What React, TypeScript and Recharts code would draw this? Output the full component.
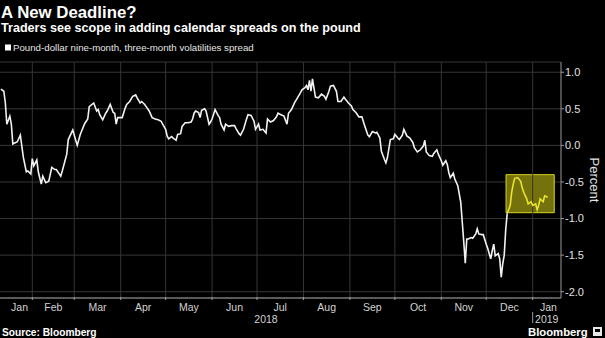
import React from "react";
import { LineChart, Line, XAxis, YAxis, CartesianGrid, ReferenceArea, ReferenceLine } from "recharts";

const FONT = "'Liberation Sans', Arial, sans-serif";

// days since 2018-01-01
const days = [
  10, 12, 13, 14, 16, 17, 18, 21, 23, 24, 25, 27, 28, 30, 31, 32, 34, 35, 37, 38, 40, 42, 44, 46, 47, 50, 51, 54, 55, 58,
  61, 63, 66, 68, 69, 72, 74, 75, 76, 78, 80, 81, 83, 85, 86, 87, 88, 91, 93, 94, 96, 98, 100, 101, 103, 104, 106, 107, 109, 111,
  113, 115, 117, 118, 120, 121, 122, 124, 125, 127, 128, 130, 131, 133, 135, 137, 138, 139, 140, 142, 143, 144, 146, 147, 149, 150, 151, 153, 155, 156,
  157, 159, 160, 162, 164, 166, 167, 169, 170, 172, 174, 175, 177, 179, 180, 182, 183, 185, 187, 188, 190, 192, 194, 195, 197, 199, 201, 202, 204, 206,
  208, 210, 211, 213, 214, 215, 216, 217, 218, 220, 222, 224, 226, 227, 229, 230, 232, 234, 235, 237, 239, 240, 242, 244, 245, 247, 249, 250, 251, 253,
  255, 256, 258, 260, 261, 263, 264, 266, 267, 268, 270, 272, 273, 275, 276, 278, 279, 281, 283, 285, 286, 288, 290, 292, 293, 294, 296, 298, 299, 301,
  302, 304, 305, 307, 308, 309, 310, 312, 313, 315, 317, 318, 319, 320, 321, 322, 324, 325, 327, 328, 329, 331, 332, 334, 335, 336, 337, 338, 339, 340,
  342, 343, 344, 345, 346, 347, 348,
];
const spread = [
  0.77, 0.74, 0.58, 0.29, 0.4, 0.29, 0.02, 0.05, 0.14, -0.01, -0.16, -0.36, -0.35, -0.39, -0.18, -0.28, -0.2, -0.36, -0.53, -0.42, -0.51, -0.49, -0.3, -0.33, -0.33, -0.42, -0.35, -0.12, 0.08, 0.21,
  0.0, 0.15, 0.3, 0.36, 0.53, 0.58, 0.47, 0.49, 0.42, 0.35, 0.44, 0.47, 0.56, 0.45, 0.44, 0.29, 0.38, 0.38, 0.51, 0.56, 0.6, 0.67, 0.69, 0.65, 0.58, 0.6, 0.56, 0.53, 0.47, 0.38,
  0.36, 0.35, 0.33, 0.29, 0.22, 0.13, 0.09, 0.12, 0.1, 0.07, 0.15, 0.16, 0.26, 0.31, 0.31, 0.32, 0.36, 0.44, 0.47, 0.45, 0.38, 0.48, 0.5, 0.47, 0.29, 0.32, 0.36, 0.49, 0.41, 0.38,
  0.29, 0.21, 0.29, 0.26, 0.27, 0.27, 0.23, 0.16, 0.14, 0.22, 0.36, 0.42, 0.41, 0.33, 0.22, 0.29, 0.21, 0.22, 0.17, 0.36, 0.32, 0.34, 0.39, 0.44, 0.42, 0.4, 0.29, 0.44, 0.49, 0.58,
  0.65, 0.72, 0.76, 0.79, 0.82, 0.76, 0.89, 0.74, 0.91, 0.66, 0.65, 0.7, 0.67, 0.63, 0.74, 0.81, 0.82, 0.74, 0.6, 0.6, 0.66, 0.63, 0.58, 0.54, 0.49, 0.45, 0.39, 0.39, 0.39, 0.26,
  0.14, 0.12, 0.19, 0.17, 0.18, 0.1, -0.08, -0.19, -0.24, -0.17, 0.08, 0.09, 0.15, 0.1, 0.08, 0.14, 0.22, 0.13, 0.1, 0.04, -0.03, -0.09, -0.06, -0.01, 0.07, -0.09, -0.14, -0.15, -0.11, -0.06,
  -0.12, -0.21, -0.27, -0.21, -0.26, -0.37, -0.44, -0.38, -0.46, -0.55, -0.78, -1.05, -1.32, -1.61, -1.28, -1.28, -1.26, -1.27, -1.21, -1.14, -1.21, -1.22, -1.22, -1.35, -1.41, -1.48, -1.55, -1.44, -1.35, -1.51,
  -1.48, -1.55, -1.8, -1.62, -1.5, -1.15, -0.93,
];
// highlighted (yellow) stretch
const highlightDays = [348, 350, 351, 352, 353, 355, 357, 358, 359, 361, 362, 364, 365, 367, 368, 369, 370, 372, 373, 375];
const highlightSpread = [-0.93, -0.82, -0.64, -0.53, -0.45, -0.44, -0.49, -0.58, -0.64, -0.73, -0.8, -0.77, -0.82, -0.8, -0.88, -0.82, -0.73, -0.77, -0.69, -0.71];
const highlightX = [347.2, 379.4];
const highlightY = [-0.92, -0.4];

const monthStarts = [31, 59, 90, 120, 151, 181, 212, 243, 273, 304, 334, 365];
const monthLabels = ["Jan", "Feb", "Mar", "Apr", "May", "Jun", "Jul", "Aug", "Sep", "Oct", "Nov", "Dec", "Jan"];
const monthLabelDays = [22.5, 45, 74.5, 105, 135.5, 166, 196.5, 227.5, 258, 288.5, 319, 349.5, 375.5];
const yearLabels = ["2018", "2019"];
const yearLabelDays = [187, 366.6];
const yearStart = 365;
const yTicks = [-2, -1.5, -1, -0.5, 0, 0.5, 1];
const xDomain = [9.44, 383.9];
const yDomain = [-2.086, 1.14];

const rowMap = new Map<number, any>();
days.forEach((d, i) => rowMap.set(d, { d, w: spread[i] }));
highlightDays.forEach((d, i) => {
  const r = rowMap.get(d) || { d };
  r.h = highlightSpread[i];
  rowMap.set(d, r);
});
const rows = Array.from(rowMap.values()).sort((a, b) => a.d - b.d);

const xTicks = [...monthStarts, ...monthLabelDays, ...yearLabelDays].sort((a, b) => a - b);

const XTick = (props: any) => {
  const { x, y, payload } = props;
  const v = payload.value;
  const li = monthLabelDays.indexOf(v);
  if (li >= 0) {
    return (
      <text x={x} y={y + 12.5} textAnchor="middle" fill="#d2d2d2" fontSize={10.5} fontFamily={FONT}>
        {monthLabels[li]}
      </text>
    );
  }
  const yi = yearLabelDays.indexOf(v);
  if (yi >= 0) {
    return (
      <text x={x} y={y + 25} textAnchor={yi === 0 ? "middle" : "start"} fill="#d2d2d2" fontSize={10.5} fontFamily={FONT}>
        {yearLabels[yi]}
      </text>
    );
  }
  return (
    <g>
      <line x1={x} x2={x} y1={y - 1} y2={y + 2} stroke="#9a9a9a" strokeWidth={1} />
      {v === yearStart ? <line x1={x} x2={x} y1={y + 14} y2={y + 25} stroke="#9a9a9a" strokeWidth={1} /> : null}
    </g>
  );
};

export default function App() {
  return (
    <div
      style={{
        position: "absolute",
        left: 0,
        top: 0,
        width: 605,
        height: 338,
        background: "#000",
        overflow: "hidden",
        fontFamily: FONT,
      }}
    >
      <LineChart width={605} height={338} data={rows} margin={{ top: 62, right: 0, bottom: 0, left: 0 }}>
        <CartesianGrid vertical={false} stroke="#363636" strokeWidth={1} />
        {monthStarts.map((d) => (
          <ReferenceLine key={d} x={d} stroke="#363636" strokeWidth={1} ifOverflow="hidden" />
        ))}
        <ReferenceArea
          x1={highlightX[0]}
          x2={highlightX[1]}
          y1={highlightY[0]}
          y2={highlightY[1]}
          fill="#7a760c"
          fillOpacity={0.96}
          stroke="#d6d41e"
          strokeWidth={1}
          ifOverflow="visible"
        />
        <XAxis
          dataKey="d"
          type="number"
          domain={xDomain}
          allowDataOverflow
          ticks={xTicks}
          interval={0}
          tickSize={0}
          tickMargin={0}
          tickLine={false}
          tick={<XTick />}
          axisLine={{ stroke: "#9a9a9a", strokeWidth: 1 }}
          height={40}
        />
        <YAxis
          orientation="right"
          type="number"
          domain={yDomain}
          allowDataOverflow
          ticks={yTicks}
          interval={0}
          width={44}
          tickSize={3}
          tickMargin={1}
          tickFormatter={(v: number) => v.toFixed(1)}
          tick={{ fill: "#e2e2e2", fontSize: 11, fontFamily: FONT, textAnchor: "start" }}
          tickLine={{ stroke: "#9a9a9a" }}
          axisLine={{ stroke: "#9a9a9a", strokeWidth: 1 }}
        />
        <Line
          dataKey="w"
          type="linear"
          stroke="#f2f2f2"
          strokeWidth={1.6}
          dot={false}
          activeDot={false}
          isAnimationActive={false}
        />
        <Line
          dataKey="h"
          type="linear"
          stroke="#e8e62c"
          strokeWidth={1.6}
          dot={false}
          activeDot={false}
          isAnimationActive={false}
        />
      </LineChart>
      <svg
        width={605}
        height={338}
        style={{ position: "absolute", left: 0, top: 0, pointerEvents: "none" }}
      >
        <text x={1} y={18} fill="#ffffff" fontSize={16.8} fontWeight="bold" fontFamily={FONT}>
          A New Deadline?
        </text>
        <text x={1} y={32} fill="#ffffff" fontSize={12.6} fontWeight="bold" fontFamily={FONT}>
          Traders see scope in adding calendar spreads on the pound
        </text>
        <rect x={5} y={44.5} width={6} height={6} fill="#ffffff" />
        <text x={13} y={50.5} fill="#e6e6e6" fontSize={9.7} fontFamily={FONT}>
          Pound-dollar nine-month, three-month volatilities spread
        </text>
        <text x={590} y={180} fill="#e2e2e2" fontSize={13} fontFamily={FONT} textAnchor="middle" transform="rotate(90 590 180)">
          Percent
        </text>
        <text x={2} y={336} fill="#ffffff" fontSize={10.2} fontWeight="bold" fontFamily={FONT}>
          Source: Bloomberg
        </text>
        <text x={528} y={336} fill="#ffffff" fontSize={11.3} fontWeight="bold" fontFamily={FONT}>
          Bloomberg
        </text>
        <rect x={593} y={327} width={9} height={9} fill="#e8e8e8" />
        <rect x={595} y={329} width={5} height={3} fill="#000" />
      </svg>
    </div>
  );
}
